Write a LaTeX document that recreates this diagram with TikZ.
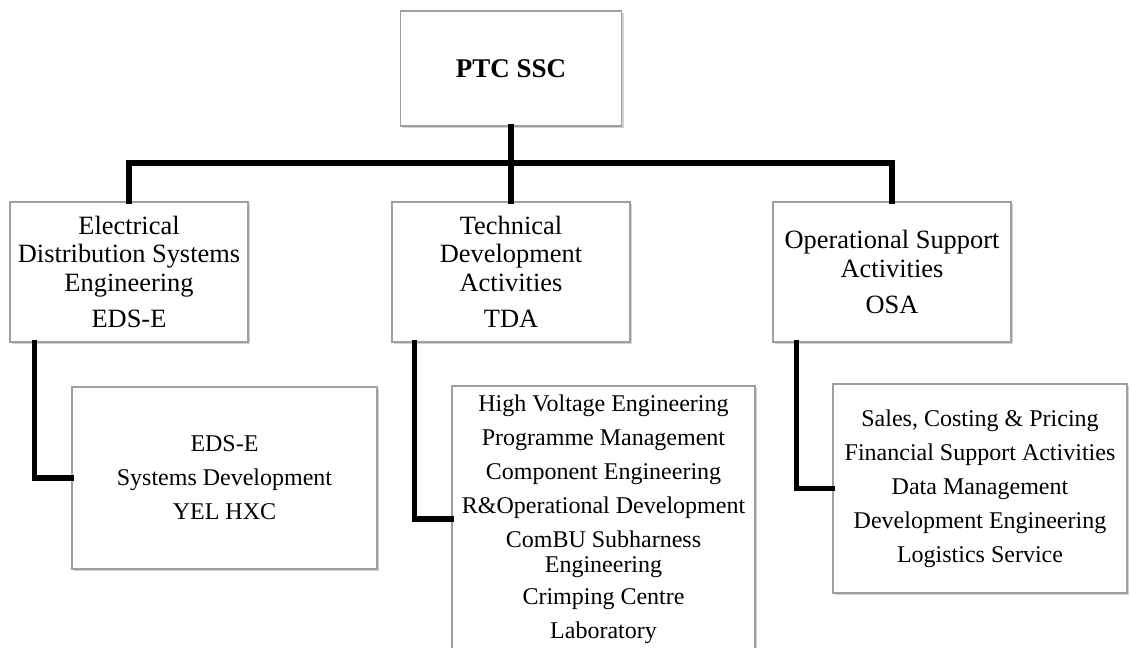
\documentclass[tikz,border=0pt]{standalone}
\usepackage{fontspec}
\setmainfont{Liberation Serif}
\usetikzlibrary{shadows,calc}
\begin{document}
\begin{tikzpicture}[x=0.5pt,y=-0.5pt,
  box/.style={draw=gray!75,line width=0.6pt,fill=white,inner sep=0pt,align=center,
    drop shadow={shadow xshift=1.2pt,shadow yshift=-1.2pt,opacity=0.35,fill=gray}},
  topfont/.style={font=\fontsize{13.2}{14.2}\selectfont},
  subfont/.style={font=\fontsize{12}{17}\selectfont},
  conn/.style={line width=2.6pt,black,line cap=rect,line join=miter}]
\useasboundingbox (0,0) rectangle (1130,648);
\fill[white] (0,0) rectangle (1130,648);
\clip (0,0) rectangle (1130,648);

\node[box,minimum width=110.5pt,minimum height=57.5pt,font=\fontsize{13.5}{15}\selectfont\bfseries] (ptc) at (511,68.5) {PTC SSC};

\node[box,topfont,minimum width=119pt,minimum height=70pt] (eds) at (129,272)
  {Electrical\\Distribution Systems\\Engineering\\[4pt]EDS-E};
\node[box,topfont,minimum width=119pt,minimum height=70pt] (tda) at (511,272)
  {Technical\\Development\\Activities\\[4pt]TDA};
\node[box,topfont,minimum width=119pt,minimum height=70pt] (osa) at (892,272)
  {Operational Support\\Activities\\[4pt]OSA};

\node[box,subfont,minimum width=152.5pt,minimum height=91pt] (edssub) at (224.5,478)
  {EDS-E\\Systems Development\\YEL HXC};
\node[box,subfont,minimum width=151.5pt,minimum height=133pt] (tdasub) at (603.5,519)
  {High Voltage Engineering\\Programme Management\\Component Engineering\\R\&Operational Development\\ComBU Subharness\\[-4.5pt]Engineering\\[-1pt]Crimping Centre\\Laboratory};
\node[box,subfont,minimum width=147pt,minimum height=104.5pt] (osasub) at (980,488.5)
  {Sales, Costing \& Pricing\\Financial Support Activities\\Data Management\\Development Engineering\\Logistics Service};

\coordinate (bar) at (0,163);
\draw[conn] (ptc.south) -- (tda.north);
\draw[conn] (eds.north) -- (eds.north |- bar) -- (osa.north |- bar) -- (osa.north);

\draw[conn] ($(eds.south west)+(25,0)$) |- (edssub.west);
\draw[conn] ($(tda.south west)+(23,0)$) |- (tdasub.west);
\draw[conn] ($(osa.south west)+(24,0)$) |- (osasub.west);
\end{tikzpicture}
\end{document}
